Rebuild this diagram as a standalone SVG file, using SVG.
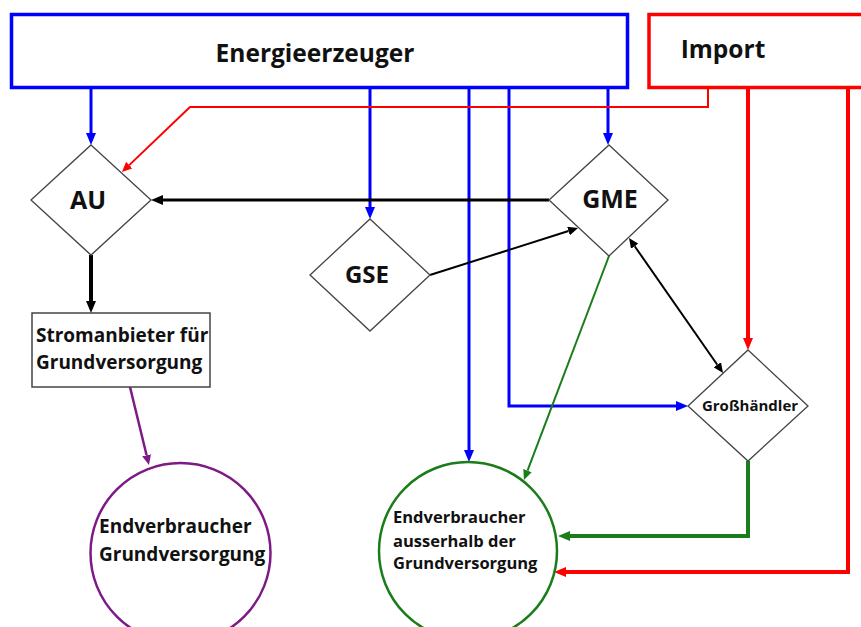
<svg xmlns="http://www.w3.org/2000/svg" width="861" height="627" viewBox="0 0 861 627">
<style>
text{font-family:"Open Sans","Liberation Sans",sans-serif;font-weight:bold;fill:#111}
.shape{fill:#fff;stroke:#444;stroke-width:1.3}
.c{fill:none;stroke-linejoin:miter}
</style>
<defs>
<marker id="ab" markerUnits="userSpaceOnUse" markerWidth="12" markerHeight="10" viewBox="0 0 12 10" refX="0" refY="5" orient="auto"><path d="M0,0L12,5L0,10z" fill="#0000ff"/></marker>
<marker id="ak" markerUnits="userSpaceOnUse" markerWidth="12" markerHeight="10" viewBox="0 0 12 10" refX="0" refY="5" orient="auto"><path d="M0,0L12,5L0,10z" fill="#000"/></marker>
<marker id="ak2" markerUnits="userSpaceOnUse" markerWidth="10" markerHeight="9" viewBox="0 0 10 9" refX="0" refY="4.5" orient="auto-start-reverse"><path d="M0,0L10,4.5L0,9z" fill="#000"/></marker>
<marker id="ar" markerUnits="userSpaceOnUse" markerWidth="12" markerHeight="10" viewBox="0 0 12 10" refX="0" refY="5" orient="auto"><path d="M0,0L12,5L0,10z" fill="#ff0000"/></marker>
<marker id="ar2" markerUnits="userSpaceOnUse" markerWidth="10" markerHeight="9" viewBox="0 0 10 9" refX="0" refY="4.5" orient="auto"><path d="M0,0L10,4.5L0,9z" fill="#ff0000"/></marker>
<marker id="ag" markerUnits="userSpaceOnUse" markerWidth="12" markerHeight="10" viewBox="0 0 12 10" refX="0" refY="5" orient="auto"><path d="M0,0L12,5L0,10z" fill="#1a7d1a"/></marker>
<marker id="ag2" markerUnits="userSpaceOnUse" markerWidth="10" markerHeight="9" viewBox="0 0 10 9" refX="0" refY="4.5" orient="auto"><path d="M0,0L10,4.5L0,9z" fill="#1a7d1a"/></marker>
<marker id="ap" markerUnits="userSpaceOnUse" markerWidth="10" markerHeight="9" viewBox="0 0 10 9" refX="0" refY="4.5" orient="auto"><path d="M0,0L10,4.5L0,9z" fill="#7d1a86"/></marker>
</defs>
<rect width="861" height="627" fill="#fff"/>

<g id="connectors">
<!-- blue from Energieerzeuger -->
<path class="c" d="M91,88V133" stroke="#0000ff" stroke-width="3" marker-end="url(#ab)"/>
<path class="c" d="M370,88V207" stroke="#0000ff" stroke-width="3" marker-end="url(#ab)"/>
<path class="c" d="M469,88V450" stroke="#0000ff" stroke-width="3" marker-end="url(#ab)"/>
<path class="c" d="M509,88V406H676" stroke="#0000ff" stroke-width="3" marker-end="url(#ab)"/>
<path class="c" d="M608,88V133" stroke="#0000ff" stroke-width="3" marker-end="url(#ab)"/>
<!-- red from Import -->
<path class="c" d="M708,88V107H190L129.2,165.1" stroke="#ff0000" stroke-width="2" marker-end="url(#ar2)"/>
<path class="c" d="M748,88V338" stroke="#ff0000" stroke-width="4" marker-end="url(#ar)"/>
<path class="c" d="M848,88V572H566" stroke="#ff0000" stroke-width="4" marker-end="url(#ar)"/>
<!-- black -->
<path class="c" d="M549,200H163" stroke="#000" stroke-width="3" marker-end="url(#ak)"/>
<path class="c" d="M91,255V301" stroke="#000" stroke-width="4" marker-end="url(#ak)"/>
<path class="c" d="M430,275L568.5,231" stroke="#000" stroke-width="2" marker-end="url(#ak2)"/>
<path class="c" d="M634.7,246.2L717.3,364.8" stroke="#000" stroke-width="2" marker-start="url(#ak2)" marker-end="url(#ak2)"/>
<!-- green -->
<path class="c" d="M609,256L527.5,470.6" stroke="#1a7d1a" stroke-width="2" marker-end="url(#ag2)"/>
<path class="c" d="M748,461V536H570" stroke="#1a7d1a" stroke-width="4" marker-end="url(#ag)"/>
<!-- purple -->
<path class="c" d="M130,387L146.6,455.3" stroke="#7d1a86" stroke-width="2.5" marker-end="url(#ap)"/>
</g>

<g id="energieerzeuger">
<rect x="11.5" y="14.5" width="616" height="73" fill="none" stroke="#0000ff" stroke-width="3.5"/>
<text x="315" y="62" font-size="24.5" text-anchor="middle">Energieerzeuger</text>
</g>
<g id="import">
<rect x="649" y="14.5" width="230" height="73" fill="none" stroke="#ff0000" stroke-width="3.5"/>
<text x="723" y="58" font-size="24.5" text-anchor="middle">Import</text>
</g>
<g id="au">
<polygon class="shape" points="91,145 151,200 91,255 31,200"/>
<text x="88" y="209" font-size="25" text-anchor="middle">AU</text>
</g>
<g id="gse">
<polygon class="shape" points="370,219 430,275 370,331 310,275"/>
<text x="367" y="283" font-size="24" text-anchor="middle">GSE</text>
</g>
<g id="gme">
<polygon class="shape" points="609,145 668,200 609,256 549,200"/>
<text x="610" y="208" font-size="25" text-anchor="middle">GME</text>
</g>
<g id="grosshaendler">
<polygon class="shape" points="748,350 808,406 748,461 688,406"/>
<text x="750" y="411" font-size="15" text-anchor="middle">Großhändler</text>
</g>
<g id="stromanbieter">
<rect x="32" y="313" width="178" height="74" fill="#fff" stroke="#444" stroke-width="1.5"/>
<text x="36" y="342" font-size="19">Stromanbieter für</text>
<text x="36" y="369" font-size="19">Grundversorgung</text>
</g>
<g id="endverbraucher-grund">
<circle cx="180.5" cy="553" r="90" fill="#fff" stroke="#7d1a86" stroke-width="2.5"/>
<text x="99" y="533" font-size="19">Endverbraucher</text>
<text x="99" y="561" font-size="19">Grundversorgung</text>
</g>
<g id="endverbraucher-ausserhalb">
<circle cx="468" cy="551" r="89" fill="#fff" stroke="#1a7d1a" stroke-width="2.5"/>
<text x="393" y="523" font-size="16.5">Endverbraucher</text>
<text x="393" y="547" font-size="16.5">ausserhalb der</text>
<text x="393" y="569" font-size="16.5">Grundversorgung</text>
</g>
</svg>
